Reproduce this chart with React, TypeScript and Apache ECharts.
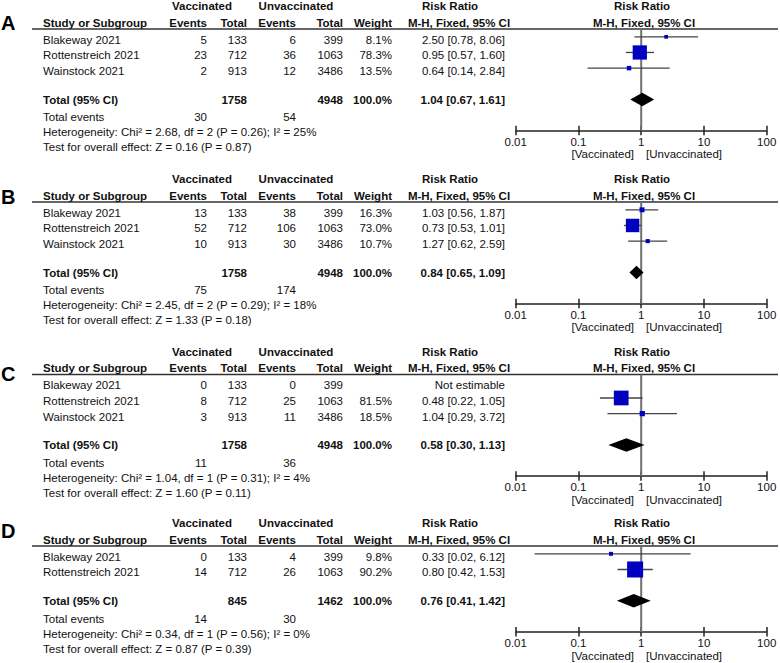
import React, { useEffect, useRef } from "react";
import * as echarts from "echarts";

// ---------------- data ----------------
const panelLetters = ["A", "B", "C", "D"];
const studyNames = [
  ["Blakeway 2021", "Rottenstreich 2021", "Wainstock 2021"],
  ["Blakeway 2021", "Rottenstreich 2021", "Wainstock 2021"],
  ["Blakeway 2021", "Rottenstreich 2021", "Wainstock 2021"],
  ["Blakeway 2021", "Rottenstreich 2021"],
];
const vaccEvents = [[5, 23, 2], [13, 52, 10], [0, 8, 3], [0, 14]];
const vaccTotal = [[133, 712, 913], [133, 712, 913], [133, 712, 913], [133, 712]];
const unvaccEvents = [[6, 36, 12], [38, 106, 30], [0, 25, 11], [4, 26]];
const unvaccTotal = [[399, 1063, 3486], [399, 1063, 3486], [399, 1063, 3486], [399, 1063]];
const weights: (number | null)[][] = [[8.1, 78.3, 13.5], [16.3, 73.0, 10.7], [null, 81.5, 18.5], [9.8, 90.2]];
const riskRatio: (number | null)[][] = [[2.5, 0.95, 0.64], [1.03, 0.73, 1.27], [null, 0.48, 1.04], [0.33, 0.8]];
const ciLow: (number | null)[][] = [[0.78, 0.57, 0.14], [0.56, 0.53, 0.62], [null, 0.22, 0.29], [0.02, 0.42]];
const ciHigh: (number | null)[][] = [[8.06, 1.6, 2.84], [1.87, 1.01, 2.59], [null, 1.05, 3.72], [6.12, 1.53]];
const totalVacc = [1758, 1758, 1758, 845];
const totalUnvacc = [4948, 4948, 4948, 1462];
const totalEventsVacc = [30, 75, 11, 14];
const totalEventsUnvacc = [54, 174, 36, 30];
const pooledRR = [1.04, 0.84, 0.58, 0.76];
const pooledLow = [0.67, 0.65, 0.3, 0.41];
const pooledHigh = [1.61, 1.09, 1.13, 1.42];
const heterogeneity = [
  "Heterogeneity: Chi² = 2.68, df = 2 (P = 0.26); I² = 25%",
  "Heterogeneity: Chi² = 2.45, df = 2 (P = 0.29); I² = 18%",
  "Heterogeneity: Chi² = 1.04, df = 1 (P = 0.31); I² = 4%",
  "Heterogeneity: Chi² = 0.34, df = 1 (P = 0.56); I² = 0%",
];
const overallEffect = [
  "Test for overall effect: Z = 0.16 (P = 0.87)",
  "Test for overall effect: Z = 1.33 (P = 0.18)",
  "Test for overall effect: Z = 1.60 (P = 0.11)",
  "Test for overall effect: Z = 0.87 (P = 0.39)",
];
const axisMin = 0.01;
const axisMax = 100;
const favoursLeft = "[Vaccinated]";
const favoursRight = "[Unvaccinated]";

// ---------------- layout ----------------
const FONT = "'Liberation Sans', Arial, Helvetica, sans-serif";
const FS = 11.5;
const ROW = 15.65;
const panelTop = [29, 202, 374.5, 546];
const letterY = [23, 197, 374, 530.5];
const PLOT_L = 515.7;
const PLOT_W = 251;
const X_STUDY = 43;
const X_VE = 207;
const X_VT = 247;
const X_UE = 296;
const X_UT = 343;
const X_W = 392;
const X_RR = 505;
const TEXT_COLOR = "#111";
const SQUARE = "#0000c0";

function fmt2(v: number) {
  return v.toFixed(2);
}

function txt(x: number, y: number, text: string, align = "left", bold = false, size = FS): any {
  return {
    type: "text",
    x,
    y,
    silent: true,
    style: {
      text,
      fill: TEXT_COLOR,
      fontSize: size,
      fontWeight: bold ? "bold" : "normal",
      fontFamily: FONT,
      align,
      verticalAlign: "middle",
    },
  };
}

export default function App() {
  const ref = useRef<HTMLDivElement>(null);

  useEffect(() => {
    if (!ref.current) return;
    const chart = echarts.init(ref.current, null, { renderer: "svg" });

    const grids: any[] = [];
    const xAxes: any[] = [];
    const yAxes: any[] = [];
    const series: any[] = [];
    const graphics: any[] = [];

    panelLetters.forEach((letter, k) => {
      const n = studyNames[k].length;
      const T = panelTop[k];
      const gridH = (n + 3.5) * ROW;
      grids.push({ left: PLOT_L, top: T, width: PLOT_W, height: gridH });
      const baseX = {
        type: "log",
        logBase: 10,
        min: axisMin,
        max: axisMax,
        splitNumber: 4,
        gridIndex: k,
        position: "bottom",
        splitLine: { show: false },
      };
      xAxes.push({
        ...baseX,
        axisLine: { show: true, onZero: false, lineStyle: { color: "#222", width: 1.5 } },
        axisTick: { show: true, inside: false, length: 4.5, lineStyle: { color: "#222", width: 1.5 } },
        axisLabel: {
          show: true,
          margin: 5,
          color: TEXT_COLOR,
          fontSize: FS,
          fontFamily: FONT,
          formatter: (v: number) => String(+v.toPrecision(6)),
        },
      });
      xAxes.push({
        ...baseX,
        axisLine: { show: false, onZero: false },
        axisTick: { show: true, inside: true, length: 5, lineStyle: { color: "#222", width: 1.5 } },
        axisLabel: { show: false },
      });
      yAxes.push({ type: "value", gridIndex: k, inverse: true, min: -0.5, max: n + 3, show: false });

      // reference line at RR = 1
      series.push({
        type: "custom",
        xAxisIndex: 2 * k,
        yAxisIndex: k,
        z: 1,
        silent: true,
        data: [[1, -0.5, n + 3]],
        encode: { x: 0, y: [1, 2] },
        renderItem: (_p: any, api: any) => {
          const a = api.coord([api.value(0), api.value(1)]);
          const b = api.coord([api.value(0), api.value(2)]);
          return {
            type: "line",
            shape: { x1: a[0], y1: a[1], x2: b[0], y2: b[1] },
            style: { stroke: "#707070", lineWidth: 2 },
          };
        },
      });

      // study estimates
      const studyData: any[] = [];
      for (let i = 0; i < n; i++) {
        if (riskRatio[k][i] != null) {
          studyData.push([ciLow[k][i], ciHigh[k][i], i, riskRatio[k][i], weights[k][i]]);
        }
      }
      series.push({
        type: "custom",
        xAxisIndex: 2 * k,
        yAxisIndex: k,
        z: 3,
        silent: true,
        data: studyData,
        encode: { x: [0, 1, 3], y: 2 },
        renderItem: (_p: any, api: any) => {
          const y = api.value(2);
          const p1 = api.coord([api.value(0), y]);
          const p2 = api.coord([api.value(1), y]);
          const c = api.coord([api.value(3), y]);
          const s = 2.5 + 0.15 * api.value(4);
          return {
            type: "group",
            children: [
              {
                type: "line",
                shape: { x1: p1[0], y1: p1[1], x2: p2[0], y2: p2[1] },
                style: { stroke: "#444", lineWidth: 1.3 },
              },
              {
                type: "rect",
                shape: { x: c[0] - s / 2, y: c[1] - s / 2, width: s, height: s },
                style: { fill: SQUARE },
              },
            ],
          };
        },
      });

      // pooled diamond
      series.push({
        type: "custom",
        xAxisIndex: 2 * k,
        yAxisIndex: k,
        z: 3,
        silent: true,
        data: [[pooledLow[k], pooledHigh[k], n + 1, pooledRR[k]]],
        encode: { x: [0, 1, 3], y: 2 },
        renderItem: (_p: any, api: any) => {
          const y = api.value(2);
          const l = api.coord([api.value(0), y]);
          const r = api.coord([api.value(1), y]);
          const c = api.coord([api.value(3), y]);
          const h = 6.8;
          return {
            type: "polygon",
            shape: { points: [[l[0], l[1]], [c[0], c[1] - h], [r[0], r[1]], [c[0], c[1] + h]] },
            style: { fill: "#000" },
          };
        },
      });

      // ----- table texts -----
      graphics.push({
        type: "text",
        x: 1,
        y: letterY[k],
        silent: true,
        style: {
          text: letter,
          fill: "#000",
          fontSize: 20,
          fontWeight: "bold",
          fontFamily: FONT,
          align: "left",
          verticalAlign: "middle",
        },
      });
      graphics.push({
        type: "line",
        silent: true,
        shape: { x1: 32, y1: T, x2: 778, y2: T },
        style: { stroke: "#333", lineWidth: 1.5 },
      });
      const h1 = T - 23;
      const h2 = T - 6.5;
      graphics.push(txt(202, h1, "Vaccinated", "center", true));
      graphics.push(txt(296, h1, "Unvaccinated", "center", true));
      graphics.push(txt(450, h1, "Risk Ratio", "center", true));
      graphics.push(txt(642, h1, "Risk Ratio", "center", true));
      graphics.push(txt(X_STUDY, h2, "Study or Subgroup", "left", true));
      graphics.push(txt(X_VE, h2, "Events", "right", true));
      graphics.push(txt(X_VT, h2, "Total", "right", true));
      graphics.push(txt(X_UE, h2, "Events", "right", true));
      graphics.push(txt(X_UT, h2, "Total", "right", true));
      graphics.push(txt(X_W, h2, "Weight", "right", true));
      graphics.push(txt(459, h2, "M-H, Fixed, 95% CI", "center", true));
      graphics.push(txt(644, h2, "M-H, Fixed, 95% CI", "center", true));

      for (let i = 0; i < n; i++) {
        const y = T + 0.5 * ROW + i * ROW + 3;
        graphics.push(txt(X_STUDY, y, studyNames[k][i], "left"));
        graphics.push(txt(X_VE, y, String(vaccEvents[k][i]), "right"));
        graphics.push(txt(X_VT, y, String(vaccTotal[k][i]), "right"));
        graphics.push(txt(X_UE, y, String(unvaccEvents[k][i]), "right"));
        graphics.push(txt(X_UT, y, String(unvaccTotal[k][i]), "right"));
        const w = weights[k][i];
        if (w != null) graphics.push(txt(X_W, y, w.toFixed(1) + "%", "right"));
        const rr = riskRatio[k][i];
        const lo = ciLow[k][i];
        const hi = ciHigh[k][i];
        graphics.push(
          txt(
            X_RR,
            y,
            rr != null && lo != null && hi != null ? `${fmt2(rr)} [${fmt2(lo)}, ${fmt2(hi)}]` : "Not estimable",
            "right"
          )
        );
      }
      const yt = T + (n + 1.5) * ROW + 0.5;
      graphics.push(txt(X_STUDY, yt, "Total (95% CI)", "left", true));
      graphics.push(txt(X_VT, yt, String(totalVacc[k]), "right", true));
      graphics.push(txt(X_UT, yt, String(totalUnvacc[k]), "right", true));
      graphics.push(txt(X_W, yt, "100.0%", "right", true));
      graphics.push(
        txt(X_RR, yt, `${fmt2(pooledRR[k])} [${fmt2(pooledLow[k])}, ${fmt2(pooledHigh[k])}]`, "right", true)
      );
      const ye = yt + 17.5;
      graphics.push(txt(X_STUDY, ye, "Total events", "left"));
      graphics.push(txt(X_VE, ye, String(totalEventsVacc[k]), "right"));
      graphics.push(txt(X_UE, ye, String(totalEventsUnvacc[k]), "right"));
      graphics.push(txt(X_STUDY, ye + 15, heterogeneity[k], "left"));
      graphics.push(txt(X_STUDY, ye + 30, overallEffect[k], "left"));

      const yf = T + gridH + 23.5;
      graphics.push(txt(634, yf, favoursLeft, "right"));
      graphics.push(txt(646, yf, favoursRight, "left"));
    });

    chart.setOption({
      animation: false,
      backgroundColor: "#fff",
      grid: grids,
      xAxis: xAxes,
      yAxis: yAxes,
      series,
      graphic: { elements: graphics },
    });

    return () => chart.dispose();
  }, []);

  return (
    <div
      ref={ref}
      style={{ position: "absolute", left: 0, top: 0, width: 780, height: 663, background: "#fff" }}
    />
  );
}
